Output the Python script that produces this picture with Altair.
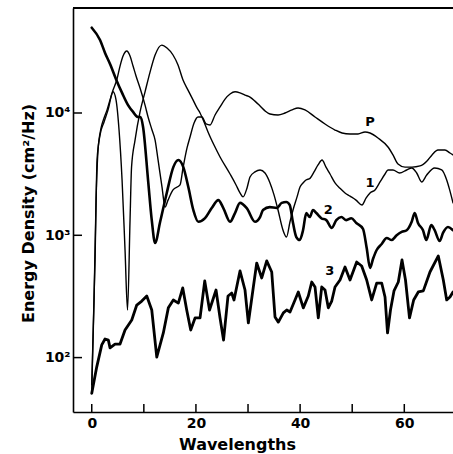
import altair as alt
import pandas as pd

# ---- data (x in wavelengths, y in cm^2/Hz) ----
curve_P = [(0, 54), (0.44, 296), (0.83, 1940), (1.21, 4980), (1.79, 7540), (2.36, 9100),
           (2.94, 10600), (3.51, 12800), (4.09, 15400), (4.80, 18600), (5.43, 24200),
           (6.01, 29200), (6.72, 32100), (7.35, 29200), (7.93, 24200), (8.50, 20100),
           (9.27, 16000), (10.23, 11600), (10.81, 9270), (11.57, 7260), (12.16, 6010),
           (12.73, 4130), (13.49, 2480), (14.07, 1700), (14.64, 1940), (15.60, 2350),
           (16.95, 2580), (17.52, 3550), (18.29, 5180), (18.87, 6370), (19.64, 8280),
           (20.40, 9270), (21.17, 9270), (21.94, 8130), (22.71, 7980), (23.67, 9630),
           (24.63, 11200), (25.59, 13000), (26.55, 14300), (27.51, 14900), (28.46, 14600),
           (29.42, 14000), (30.38, 13500), (31.34, 12500), (32.31, 11400), (33.26, 10400),
           (34.22, 9810), (35.76, 9630), (37.10, 10000), (38.45, 10600), (39.60, 11000),
           (40.94, 10600), (42.86, 9270), (44.78, 8130), (46.70, 7260), (48.05, 6860),
           (49.58, 6740), (51.12, 6740), (52.46, 7000), (53.42, 6860), (54.95, 6250),
           (56.87, 5270), (57.83, 4540), (58.79, 3830), (60.14, 3610), (61.48, 3610),
           (63.02, 3690), (64.36, 4050), (65.32, 4540), (66.47, 4980), (67.81, 4980),
           (68.77, 4710), (69.35, 4540)]

curve_1 = [(0, 60), (0.63, 628), (1.02, 4130), (1.59, 6600), (2.36, 8440), (3.13, 10600),
           (4.09, 14900), (4.66, 12800), (5.24, 7260), (5.82, 2830), (6.39, 758), (6.87, 245),
           (7.35, 1330), (7.64, 3610), (8.31, 6010), (9.27, 10200), (10.23, 14900),
           (11.19, 21600), (12.16, 29800), (13.44, 35900), (14.45, 34000), (15.60, 29800),
           (16.56, 24700), (17.52, 18600), (18.48, 15400), (19.44, 12800), (20.21, 11000),
           (20.79, 10000), (21.56, 8440), (22.32, 7000), (23.47, 5470), (24.63, 4370),
           (26.55, 3170), (27.70, 2580), (28.46, 2220), (29.04, 2060), (29.81, 2440),
           (30.38, 3000), (31.34, 3300), (32.31, 3420), (33.26, 3230), (34.22, 2680),
           (34.99, 2140), (35.76, 1610), (36.72, 1100), (37.39, 968), (38.06, 1290),
           (38.64, 1610), (39.41, 2060), (39.98, 2480), (40.56, 2680), (41.13, 2830),
           (41.90, 2920), (42.67, 3300), (43.44, 3760), (44.21, 4130), (44.97, 3610),
           (45.74, 3170), (46.70, 2680), (47.66, 2420), (48.62, 2220), (49.58, 2090),
           (50.73, 1940), (51.88, 1770), (52.65, 2010), (53.42, 2220), (54.38, 2350),
           (55.34, 2730), (56.30, 3170), (56.87, 3420), (57.83, 3420), (59.10, 3230),
           (60.46, 3420), (61.42, 3550), (62.38, 3230), (63.34, 2730), (64.30, 3110),
           (65.83, 3550), (67.18, 3420), (68.14, 2830), (68.71, 2350), (69.35, 1840)]

curve_2 = [(0, 49800), (1.59, 39500), (2.55, 31000), (3.51, 25200), (4.80, 18300),
           (5.82, 14600), (6.97, 11600), (7.93, 10200), (8.89, 9270), (9.37, 9270),
           (9.85, 7690), (10.81, 2830), (11.52, 1330), (12.16, 865), (13.13, 1290),
           (14.40, 2220), (15.66, 3610), (16.62, 4130), (17.58, 3610), (18.54, 2480),
           (19.50, 1610), (20.46, 1290), (21.75, 1380), (23.03, 1670), (24.30, 1940),
           (25.26, 1670), (26.55, 1290), (27.50, 1520), (28.46, 1840), (29.75, 1670),
           (31.35, 1290), (32.31, 1410), (32.88, 1610), (34.17, 1700), (35.51, 1670),
           (36.47, 1840), (37.35, 1870), (38.00, 1770), (38.64, 1260), (39.27, 968),
           (39.92, 915), (40.56, 1100), (41.19, 1520), (41.84, 1410), (42.48, 1610),
           (43.11, 1520), (44.07, 1380), (45.03, 1330), (46.07, 1150), (46.95, 1330),
           (47.91, 1410), (48.87, 1330), (49.83, 1380), (50.79, 1260), (52.07, 1130),
           (52.78, 787), (53.42, 541), (53.99, 640), (54.70, 758), (55.66, 849),
           (56.62, 951), (57.58, 915), (58.54, 1000), (59.50, 1065), (60.46, 1100),
           (61.42, 1290), (62.00, 1520), (62.63, 1260), (63.59, 1100), (64.22, 915),
           (65.18, 1210), (65.83, 1100), (66.79, 898), (67.43, 1045), (68.39, 1170),
           (69.35, 1100)]

curve_3 = [(0, 51), (0.96, 84), (1.92, 127), (2.55, 142), (3.19, 139), (3.51, 120),
           (4.47, 129), (5.43, 129), (6.39, 168), (7.68, 203), (8.64, 269), (9.60, 290),
           (10.56, 319), (11.52, 245), (12.48, 101), (13.74, 159), (14.70, 255), (15.66, 296),
           (16.62, 279), (17.47, 371), (18.23, 245), (19.00, 168), (19.83, 211), (20.79, 211),
           (21.69, 423), (22.61, 245), (23.86, 357), (24.63, 211), (25.30, 139), (26.16, 319),
           (26.87, 337), (27.31, 296), (28.46, 511), (29.42, 357), (30.06, 192), (31.02, 378),
           (31.67, 593), (32.63, 448), (33.59, 617), (34.55, 501), (35.18, 215), (35.82, 195),
           (36.78, 232), (37.43, 245), (38.06, 236), (39.02, 296), (39.65, 344), (40.61, 255),
           (41.57, 319), (42.23, 415), (42.86, 378), (43.49, 211), (44.15, 378), (44.78, 357),
           (45.41, 255), (46.07, 290), (46.70, 378), (47.66, 431), (48.62, 551), (49.58, 431),
           (50.86, 605), (51.82, 561), (52.78, 431), (53.74, 296), (54.70, 407), (55.66, 407),
           (56.30, 313), (56.78, 159), (57.35, 245), (58.02, 351), (58.85, 415), (59.56, 628),
           (60.23, 431), (61.00, 211), (61.80, 296), (62.69, 344), (63.65, 351), (64.93, 501),
           (66.53, 678), (67.49, 431), (68.14, 296), (68.77, 313), (69.35, 344)]

label_text = ["P", "1", "2", "3"]
label_x = [53.4, 53.4, 45.4, 45.7]
label_y = [8440, 2680, 1610, 511]

x_tick_values = [0, 10, 20, 30, 40, 50, 60]
x_label_values = [0, 20, 40, 60]
y_tick_values = [100, 1000, 10000]
x_domain = [-3.6, 69.35]
y_domain = [35.9, 72200]


def to_frame(name, pts):
    return pd.DataFrame({"x": [p[0] for p in pts], "y": [p[1] for p in pts], "series": name})


df = pd.concat([to_frame("P", curve_P), to_frame("1", curve_1),
                to_frame("2", curve_2), to_frame("3", curve_3)], ignore_index=True)

W, H = 380, 404
FONT = "DejaVu Sans"
xs = alt.Scale(domain=x_domain, nice=False, zero=False)
ys = alt.Scale(type="log", domain=y_domain, nice=False)

x_axis = alt.Axis(values=x_label_values, ticks=False, grid=False, labelFont=FONT,
                  labelFontWeight="bold", labelFontSize=14, labelColor="black",
                  labelPadding=4, domainColor="black", domainWidth=1.6,
                  title="Wavelengths", titleFont=FONT, titleFontWeight="bold",
                  titleFontSize=16, titleColor="black", titleX=164, titleY=37,
                  titleBaseline="alphabetic", titleAlign="center")
y_axis = alt.Axis(values=y_tick_values, ticks=False, grid=False, labelFont=FONT,
                  labelFontWeight="bold", labelFontSize=14, labelColor="black",
                  labelPadding=3, domainColor="black", domainWidth=1.6,
                  labelExpr="datum.value == 100 ? '10²' : datum.value == 1000 ? '10³' : '10⁴'",
                  title="Energy Density (cm²/Hz)", titleFont=FONT, titleFontWeight="bold",
                  titleFontSize=16, titleColor="black", titleX=-40, titleY=205,
                  titleBaseline="alphabetic", titleAlign="center")

base = alt.Chart(df)


def curve(name, width, interp):
    return base.transform_filter(alt.datum.series == name).mark_line(
        color="black", strokeWidth=width, interpolate=interp, clip=True,
        strokeJoin="round", strokeCap="round"
    ).encode(
        x=alt.X("x:Q", scale=xs, axis=x_axis),
        y=alt.Y("y:Q", scale=ys, axis=y_axis),
    )


layers = [
    curve("P", 1.4, "monotone"),
    curve("1", 1.4, "monotone"),
    curve("2", 2.6, "monotone"),
    curve("3", 2.8, "linear"),
]

x_ticks = alt.Chart(pd.DataFrame({"x": x_tick_values})).mark_rule(
    color="black", strokeWidth=1.5).encode(
    x=alt.X("x:Q", scale=xs, axis=x_axis), y=alt.value(H), y2=alt.value(H - 8))
y_ticks = alt.Chart(pd.DataFrame({"y": y_tick_values})).mark_rule(
    color="black", strokeWidth=1.5).encode(
    y=alt.Y("y:Q", scale=ys, axis=y_axis), x=alt.value(0), x2=alt.value(9))
top_frame = alt.Chart(pd.DataFrame({"y": [y_domain[1]]})).mark_rule(
    color="black", strokeWidth=2).encode(
    y=alt.Y("y:Q", scale=ys, axis=y_axis), x=alt.value(0), x2=alt.value(W))

labels = alt.Chart(pd.DataFrame({"x": label_x, "y": label_y, "t": label_text})).mark_text(
    font=FONT, fontWeight="bold", fontSize=13, color="black").encode(
    x=alt.X("x:Q", scale=xs, axis=x_axis), y=alt.Y("y:Q", scale=ys, axis=y_axis), text="t:N")

chart = alt.layer(*layers, x_ticks, y_ticks, top_frame, labels).properties(
    width=W, height=H,
    autosize=alt.AutoSizeParams(type="none"),
    padding={"left": 73, "top": 8, "right": 0, "bottom": 42},
    background="white",
).configure_view(stroke=None)

chart.save("out.html", embed_options={"renderer": "svg", "actions": False})
